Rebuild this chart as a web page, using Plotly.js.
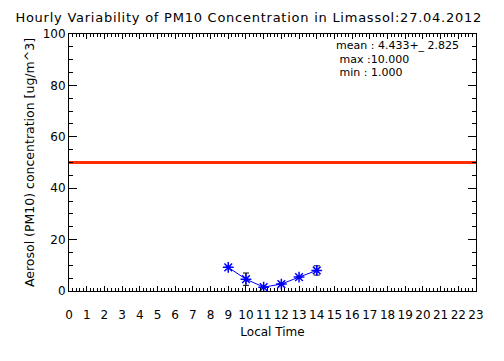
<!DOCTYPE html>
<html><head><meta charset="utf-8">
<script src="https://cdn.plot.ly/plotly-3.0.1.min.js"></script>
<style>body{margin:0;background:#fff}#c{width:504px;height:361px}
g.annotation[data-index="0"] text{letter-spacing:0.75px}
</style>
</head><body><div id="c"></div>
<script>
const hours = [9, 10, 11, 12, 13, 14];
const pm10 = [9.2, 4.6, 1.5, 2.7, 5.4, 8.0];
const pm10Err = [0, 2.4, 0, 0, 0, 1.8];
const limitX = [0, 23];
const limitY = [50, 50];
const xTicks = Array.from({length: 24}, (_, i) => i);
const xTickText = xTicks.map(String);
const yTicks = [0, 20, 40, 60, 80, 100];
const statsLines = ['mean : 4.433+_ 2.825', ' max :10.000', ' min : 1.000'];
const titleText = 'Hourly Variability of PM10 Concentration in Limassol:27.04.2012';

const font = 'DejaVu Sans, sans-serif';
const traces = [
  {x: limitX, y: limitY, mode: 'lines', line: {color: '#ff2a00', width: 3}, hoverinfo: 'skip'},
  {x: hours, y: pm10, mode: 'lines+markers',
   line: {color: '#0000ff', width: 1},
   marker: {symbol: 'asterisk-open', size: 9, color: '#0000ff', line: {color: '#0000ff', width: 1.5}},
   error_y: {type: 'data', array: pm10Err, visible: true, color: '#000000', thickness: 1, width: 3}}
];
const layout = {
  width: 504, height: 361,
  margin: {l: 69, r: 28, t: 34, b: 70},
  paper_bgcolor: '#fff', plot_bgcolor: '#fff',
  showlegend: false,
  font: {family: font, color: '#000', size: 12},
  xaxis: {range: [0, 23], tickvals: xTicks, ticktext: xTickText,
    showgrid: false, zeroline: false, showline: true, linecolor: '#000', linewidth: 1, mirror: 'allticks',
    ticks: 'inside', ticklen: 5, tickcolor: '#000', ticklabelstandoff: 13,
    minor: {dtick: 0.2, ticks: 'inside', ticklen: 3, tickcolor: '#000'},
    title: {text: 'Local Time', font: {size: 12, family: font}, standoff: 6},
    tickfont: {size: 12, family: font}},
  yaxis: {range: [0, 100], tickvals: yTicks,
    showgrid: false, zeroline: false, showline: true, linecolor: '#000', linewidth: 1, mirror: 'allticks',
    ticks: 'inside', ticklen: 8, tickcolor: '#000',
    minor: {dtick: 5, ticks: 'inside', ticklen: 4, tickcolor: '#000'},
    title: {text: 'Aerosol (PM10) concentration [ug/m^3]', font: {size: 12.5, family: font}, standoff: 5},
    tickfont: {size: 12, family: font}},
  annotations: [
    {xref: 'paper', yref: 'paper', x: (37 - 69) / 407, y: 1 + (34 - 17) / 257, xanchor: 'left', yanchor: 'middle',
     text: titleText, showarrow: false, font: {size: 13, family: font}},
    {xref: 'paper', yref: 'paper', x: (334 - 69) / 407, y: (291 - 46) / 257, xanchor: 'left', yanchor: 'middle',
     text: statsLines[0], showarrow: false, font: {size: 11, family: font}},
    {xref: 'paper', yref: 'paper', x: (334 - 69) / 407, y: (291 - 59) / 257, xanchor: 'left', yanchor: 'middle',
     text: statsLines[1], showarrow: false, font: {size: 11, family: font}},
    {xref: 'paper', yref: 'paper', x: (334 - 69) / 407, y: (291 - 72) / 257, xanchor: 'left', yanchor: 'middle',
     text: statsLines[2], showarrow: false, font: {size: 11, family: font}}
  ]
};
Plotly.newPlot('c', traces, layout, {displayModeBar: false, staticPlot: true});
</script></body></html>
